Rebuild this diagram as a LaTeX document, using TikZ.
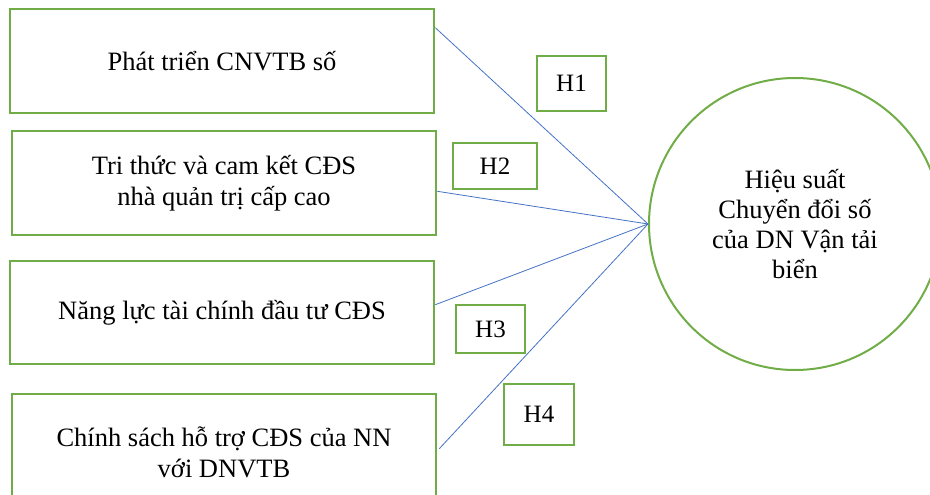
\documentclass[tikz,border=0pt]{standalone}
\usepackage{fontspec}
\setmainfont{Liberation Serif}
\definecolor{boxgreen}{HTML}{70AD47}
\definecolor{linkblue}{HTML}{4472C4}
\begin{document}
\begin{tikzpicture}[x=1pt,y=-1pt,
  fbox/.style={draw=boxgreen, line width=2.6pt, rectangle, inner sep=0pt, align=center,
    font=\fontsize{26.5}{31}\selectfont},
  hbox/.style={draw=boxgreen, line width=2.4pt, rectangle, inner sep=0pt,
    font=\fontsize{25}{30}\selectfont},
  outc/.style={draw=boxgreen, line width=2pt, circle, inner sep=0pt, align=center,
    font=\fontsize{26.5}{30}\selectfont},
  conn/.style={draw=linkblue, line width=0.8pt}]
\useasboundingbox (0,0) rectangle (930,495);
\clip (0,0) rectangle (930,495);
\node[fbox, minimum width=424pt, minimum height=104pt] (b1) at (222,61) {Phát triển CNVTB số};
\node[fbox, minimum width=424pt, minimum height=104pt] (b2) at (224,183) {Tri thức và cam kết CĐS\\nhà quản trị cấp cao};
\node[fbox, minimum width=424pt, minimum height=103pt] (b3) at (222,312.5) {Năng lực tài chính đầu tư CĐS};
\node[fbox, minimum width=424pt, minimum height=116pt] (b4) at (224,452) {Chính sách hỗ trợ CĐS của NN\\với DNVTB};
\node[outc, minimum size=292pt] (c) at (795,224) {Hiệu suất\\Chuyển đổi số\\của DN Vận tải\\biển};
\node[hbox, minimum width=69pt, minimum height=55pt] (h1) at (571.5,83.5) {H1};
\node[hbox, minimum width=84pt, minimum height=46pt] (h2) at (495,166) {H2};
\node[hbox, minimum width=69pt, minimum height=48pt] (h3) at (490.5,329) {H3};
\node[hbox, minimum width=70pt, minimum height=61pt] (h4) at (539,414.5) {H4};
\draw[conn] ([yshift=-20pt]b1.north east) -- (c.west);
\draw[conn] ([yshift=45pt]b2.south east) -- (c.west);
\draw[conn] ([yshift=-45pt]b3.north east) -- (c.west);
\draw[conn] ([xshift=2pt,yshift=-56pt]b4.north east) -- (c.west);
\end{tikzpicture}
\end{document}
